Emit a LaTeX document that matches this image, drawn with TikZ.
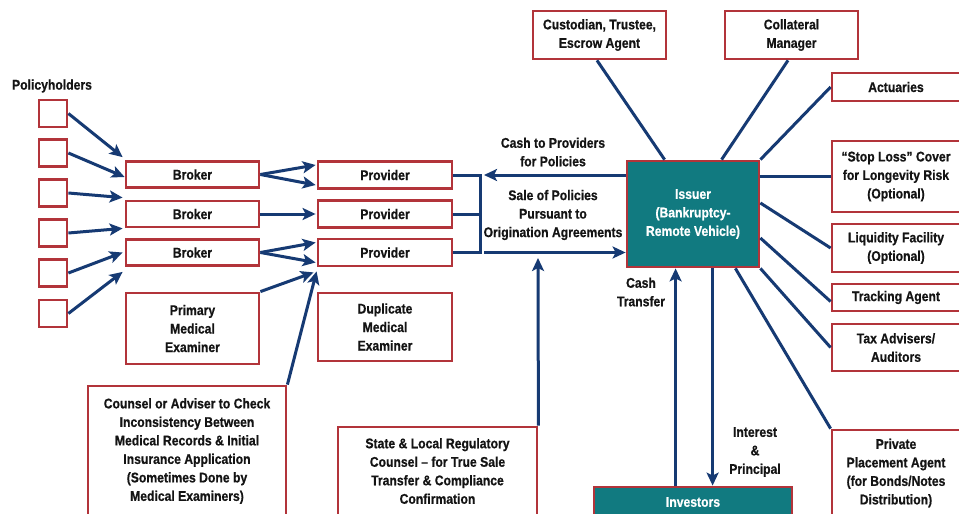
\documentclass[tikz,border=0pt]{standalone}
\usepackage{fontspec}
\setmainfont{Liberation Sans}[FakeStretch=0.87, BoldFeatures={FakeBold=0.6}]
\usetikzlibrary{arrows.meta,calc}
\definecolor{boxred}{RGB}{178,52,58}
\definecolor{navy}{RGB}{22,58,115}
\definecolor{tealc}{RGB}{17,122,128}
\definecolor{ink}{RGB}{20,20,20}
\tikzset{
  txt/.style={font=\fontsize{14}{18.5}\selectfont\bfseries, text=ink},
  rbox/.style={txt, draw=boxred, line width=2.8pt, fill=white, align=center, inner sep=0pt},
  tbox/.style={rbox, fill=tealc, text=white},
  lbl/.style={txt, align=center, inner sep=0pt},
  conn/.style={draw=navy, line width=3pt},
  arr/.style={conn, -{Stealth[length=13pt,width=12pt,inset=3pt]}},
}
\begin{document}
\begin{tikzpicture}[x=1pt,y=-1pt]
\path[use as bounding box] (0,0) rectangle (959,514);
\clip (0,0) rectangle (959,514);
\fill[white] (0,0) rectangle (959,514);

% policyholders
\node[lbl] (plab) at (52,86) {Policyholders};
\foreach \i/\y in {1/113.5,2/153,3/193,4/233,5/273,6/313.5}
  \node[rbox,minimum width=28,minimum height=27] (ph\i) at (53,\y) {};

% brokers and providers
\node[rbox,minimum width=133,minimum height=26] (broker1) at (192.5,174.5) {Broker};
\node[rbox,minimum width=133,minimum height=26] (broker2) at (192.5,214) {Broker};
\node[rbox,minimum width=133,minimum height=26] (broker3) at (192.5,252.5) {Broker};
\node[rbox,minimum width=134,minimum height=27] (provider1) at (385,175) {Provider};
\node[rbox,minimum width=134,minimum height=27] (provider2) at (385,214) {Provider};
\node[rbox,minimum width=134,minimum height=27] (provider3) at (385,252.5) {Provider};
\node[rbox,minimum width=133,minimum height=71] (primary) at (192.5,328.5) {Primary\\Medical\\Examiner};
\node[rbox,minimum width=134,minimum height=68] (duplicate) at (385,327) {Duplicate\\Medical\\Examiner};
\node[rbox,minimum width=198,minimum height=130] (counsel) at (187,451)
  {Counsel or Adviser to Check\\Inconsistency Between\\Medical Records \& Initial\\Insurance Application\\(Sometimes Done by\\Medical Examiners)};
\node[rbox,minimum width=199,minimum height=88] (state) at (437.5,471)
  {State \& Local Regulatory\\Counsel – for True Sale\\Transfer \& Compliance\\Confirmation};

% issuer and investors
\node[tbox,minimum width=132,minimum height=106] (issuer) at (693,214)
  {Issuer\\(Bankruptcy-\\Remote Vehicle)};
\node[tbox,minimum width=198,minimum height=30] (investors) at (693,502) {Investors};

% service providers
\node[rbox,minimum width=133,minimum height=48] (custodian) at (599.5,35) {Custodian, Trustee,\\Escrow Agent};
\node[rbox,minimum width=133,minimum height=48] (collateral) at (791.5,35) {Collateral\\Manager};
\node[rbox,minimum width=128,minimum height=28] (actuaries) at (896,87) {Actuaries};
\node[rbox,minimum width=128,minimum height=71] (stoploss) at (896,176.5) {“Stop Loss" Cover\\for Longevity Risk\\(Optional)};
\node[rbox,minimum width=128,minimum height=48] (liquidity) at (896,248) {Liquidity Facility\\(Optional)};
\node[rbox,minimum width=128,minimum height=27] (tracking) at (896,297.5) {Tracking Agent};
\node[rbox,minimum width=128,minimum height=47] (tax) at (896,347.5) {Tax Advisers/\\Auditors};
\node[rbox,minimum width=128,minimum height=86] (private) at (896,473) {Private\\Placement Agent\\(for Bonds/Notes\\Distribution)};

% labels
\node[lbl] (cashlab) at (553,152) {Cash to Providers\\for Policies};
\node[lbl] (salelab) at (553,215) {Sale of Policies\\Pursuant to\\Origination Agreements};
\node[lbl] (ctlab) at (641,292) {Cash\\Transfer};
\node[lbl] (iplab) at (755,452) {Interest\\\&\\Principal};

% policyholders -> brokers
\draw[arr] (ph1.east) -- ($(broker1.north west)+(-2,-3)$);
\draw[arr] (ph2.east) -- ($(broker1.west)+(0,2.5)$);
\draw[arr] (ph3.east) -- ($(broker2.north west)+(-2,-2)$);
\draw[arr] (ph4.east) -- ($(broker2.south west)+(-2,0)$);
\draw[arr] (ph5.east) -- ($(broker3.west)+(-2,0)$);
\draw[arr] (ph6.east) -- ($(broker3.south west)+(-2,5)$);

% brokers -> providers
\draw[arr] (broker1.east) -- ($(provider1.west)+(-1,-10)$);
\draw[arr] (broker1.east) -- ($(provider1.west)+(-1,10)$);
\draw[arr] (broker2.east) -- ($(provider2.west)+(-1,0)$);
\draw[arr] (broker3.east) -- ($(provider3.west)+(-1,-10)$);
\draw[arr] (broker3.east) -- ($(provider3.west)+(-1,10)$);
\draw[arr] (primary.north east) -- ($(provider3.south west)+(-3,5)$);
\draw[arr] (counsel.north east) -- ($(provider3.south west)+(0,4)$);

% bracket
\coordinate (bktop) at (480,175);
\coordinate (bkbot) at (480,252.5);
\draw[conn] (provider1.east) -- (bktop) -- (bkbot) -- (provider3.east);
\draw[conn] (provider2.east) -- (provider2.east -| bktop);

% cash / sale arrows
\coordinate (cashend) at (484,175);
\coordinate (salestart) at (484,252.5);
\draw[arr] (issuer.west |- cashend) -- (cashend);
\draw[arr] (salestart) -- (issuer.west |- salestart);
\coordinate (stateup) at (538,258);
\draw[arr] (state.north east) -- (stateup);

% issuer <-> investors
\draw[arr] ($(investors.north west)+(83,0)$) -- ($(issuer.south west)+(50,0)$);
\draw[arr] ($(issuer.south west)+(87,0)$) -- ($(investors.north west)+(120,0)$);

% issuer spokes
\draw[conn] ($(issuer.north west)+(39,0)$) -- ($(custodian.south)+(-2.5,0)$);
\draw[conn] ($(issuer.north west)+(96,0)$) -- ($(collateral.south)+(-3.5,0)$);
\draw[conn] (issuer.north east) -- (actuaries.west);
\draw[conn] (issuer.east |- stoploss.west) -- (stoploss.west);
\draw[conn] ($(issuer.east)+(0,-11)$) -- (liquidity.west);
\draw[conn] ($(issuer.east)+(0,24)$) -- ($(tracking.west)+(0,4)$);
\draw[conn] (issuer.south east) -- (tax.west);
\draw[conn] ($(issuer.south east)+(-25,0)$) -- (private.north west);
\end{tikzpicture}
\end{document}
